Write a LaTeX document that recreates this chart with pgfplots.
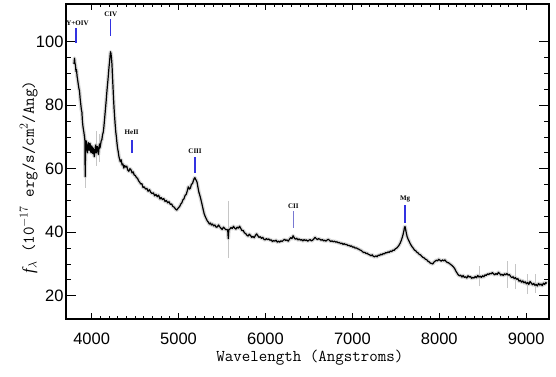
\documentclass[border=0pt]{standalone}
\usepackage{pgfplots}
\usepackage{pgfplotstable}
\pgfplotsset{compat=1.18}
\usepackage{fontspec}
\setmainfont{Liberation Sans}
\newfontfamily\serf{Liberation Serif}
\definecolor{linemark}{RGB}{50,50,225}
\definecolor{lightmark}{RGB}{120,120,210}
\pgfplotstableread{
x y
3797 93.0
3803 94.8
3808 93.2
3814 92.6
3820 90.6
3826 91.2
3832 89.2
3840 87.8
3847 86.4
3854 85.2
3860 84.6
3868 82.0
3875 80.3
3882 78.6
3888 77.8
3894 75.0
3898 73.8
3904 72.6
3910 71.6
3916 70.4
3922 69.0
3926 57.5
3930 66.5
3935 68.8
3940 68.5
3946 66.0
3952 65.0
3958 67.5
3964 68.2
3970 65.8
3976 66.5
3982 68.0
3988 65.5
3995 65.0
4000 67.2
4006 66.8
4012 64.8
4018 66.5
4024 65.5
4030 63.8
4036 65.0
4042 66.8
4048 67.5
4054 65.0
4060 65.8
4066 67.0
4072 66.0
4078 64.5
4084 66.2
4090 67.8
4096 66.5
4102 67.5
4110 68.8
4118 69.2
4126 70.8
4134 71.5
4142 73.5
4150 76.0
4158 78.5
4166 81.0
4174 83.8
4181 86.0
4188 88.0
4194 90.0
4200 92.0
4206 93.6
4212 95.6
4217 96.8
4222 96.3
4228 95.0
4234 92.8
4240 89.0
4246 85.6
4252 82.0
4258 79.0
4264 76.5
4270 74.2
4278 71.5
4284 70.2
4290 68.5
4298 66.5
4305 65.5
4314 63.8
4322 63.0
4330 62.2
4340 62.8
4350 61.2
4360 61.5
4370 60.2
4380 61.0
4392 60.5
4404 60.8
4415 59.6
4428 59.2
4440 60.0
4452 59.7
4465 58.7
4478 59.0
4490 58.0
4502 57.9
4515 57.2
4528 57.0
4540 56.2
4552 55.8
4565 55.2
4578 55.3
4591 54.1
4605 54.3
4620 53.6
4635 53.8
4650 52.9
4665 53.4
4680 52.6
4695 52.2
4710 52.4
4725 51.5
4740 51.9
4755 51.2
4770 51.7
4787 50.5
4800 50.9
4815 50.3
4830 50.6
4845 49.7
4860 50.0
4875 49.3
4890 49.6
4905 48.8
4920 48.9
4935 48.1
4950 47.9
4965 47.3
4979 47.0
4990 47.4
5002 47.8
5014 48.2
5026 48.9
5038 49.3
5050 50.2
5062 50.5
5075 51.6
5088 51.9
5100 53.0
5112 54.3
5124 53.6
5136 53.9
5148 55.1
5160 55.3
5170 56.2
5180 56.9
5188 57.2
5196 56.6
5204 56.4
5214 55.6
5224 54.0
5234 52.6
5246 51.5
5258 50.2
5270 48.8
5282 47.3
5294 45.9
5306 45.0
5318 44.3
5330 43.6
5342 43.2
5354 42.6
5366 42.9
5378 42.3
5390 42.6
5404 42.0
5418 42.3
5432 41.6
5446 41.7
5460 42.3
5474 41.7
5488 41.3
5502 40.9
5516 41.6
5530 41.2
5544 40.8
5558 40.9
5566 40.5
5572 38.0
5578 40.8
5590 41.0
5604 41.5
5618 41.2
5632 41.9
5646 41.3
5660 41.0
5674 41.6
5688 41.3
5702 41.9
5716 41.2
5730 40.5
5744 40.6
5758 39.8
5772 39.6
5786 39.1
5800 38.8
5814 39.4
5828 39.0
5842 38.4
5856 38.7
5870 38.3
5884 39.0
5898 39.5
5912 38.9
5926 38.4
5940 38.6
5954 38.1
5968 38.4
5982 37.8
5996 37.6
6010 38.0
6024 37.7
6038 37.9
6052 37.5
6066 37.6
6080 37.1
6094 37.4
6108 37.2
6122 37.5
6136 36.9
6150 37.2
6164 36.9
6178 37.3
6192 37.1
6206 37.5
6220 37.8
6234 37.4
6248 37.6
6262 37.2
6276 37.8
6290 38.3
6304 38.0
6318 38.9
6332 38.2
6346 37.8
6360 38.1
6374 37.6
6388 37.9
6402 37.5
6416 37.7
6430 37.3
6444 37.7
6458 37.4
6472 37.6
6486 37.2
6500 37.5
6514 37.7
6528 37.3
6542 37.5
6556 37.9
6570 38.4
6584 38.0
6598 37.7
6612 38.0
6626 37.8
6640 37.5
6654 37.7
6668 37.3
6682 37.5
6696 37.2
6710 37.6
6724 37.8
6738 37.4
6752 37.1
6766 37.3
6780 37.0
6794 37.2
6808 36.9
6822 37.0
6836 36.7
6850 36.8
6864 36.4
6878 36.6
6892 36.2
6906 36.4
6920 36.1
6934 36.2
6948 35.8
6962 35.9
6976 35.6
6990 35.7
7004 35.3
7018 35.4
7032 35.0
7046 35.1
7060 34.8
7074 34.7
7088 34.4
7102 34.3
7116 33.9
7130 33.6
7144 33.7
7158 33.3
7172 33.4
7186 33.0
7200 32.9
7214 32.6
7228 32.9
7242 32.4
7256 32.3
7270 32.6
7284 32.3
7298 32.8
7312 32.7
7326 33.1
7340 32.9
7354 33.3
7368 33.2
7382 33.6
7396 33.5
7410 33.8
7424 33.7
7438 34.1
7452 33.9
7466 34.4
7480 34.3
7494 34.8
7508 35.0
7522 35.4
7536 35.9
7550 36.6
7562 37.4
7574 38.4
7584 39.4
7592 40.4
7600 41.6
7606 41.8
7612 41.0
7620 39.8
7630 38.6
7640 37.9
7652 37.2
7664 36.5
7676 35.9
7688 35.4
7700 35.0
7714 34.4
7728 34.2
7742 33.7
7756 33.5
7770 33.0
7784 32.9
7798 32.4
7812 32.1
7826 31.9
7840 31.5
7854 31.4
7868 30.9
7882 30.7
7896 30.3
7910 30.2
7924 30.0
7938 30.6
7952 30.9
7966 31.2
7980 31.0
7994 31.5
8008 31.2
8022 30.9
8036 31.3
8050 31.0
8064 31.3
8078 30.8
8092 30.5
8106 30.4
8120 30.1
8134 29.8
8148 29.5
8162 29.1
8176 28.6
8190 27.8
8204 27.2
8218 26.6
8232 26.3
8246 26.5
8260 25.9
8274 26.4
8288 25.8
8302 26.0
8316 25.6
8330 26.3
8344 25.9
8358 26.1
8372 25.5
8386 25.8
8400 25.6
8414 26.1
8428 25.7
8442 26.4
8456 25.9
8470 26.2
8484 25.8
8498 26.3
8512 26.0
8526 26.6
8540 26.4
8554 26.9
8568 26.7
8582 27.1
8596 26.9
8610 27.3
8624 26.9
8638 26.6
8652 27.0
8666 26.7
8680 27.4
8694 27.0
8708 26.5
8722 26.8
8736 26.4
8750 26.9
8764 26.6
8778 27.0
8792 26.5
8806 26.7
8820 26.1
8834 25.7
8848 26.0
8862 25.4
8876 25.7
8890 25.2
8904 25.4
8918 24.6
8932 24.9
8946 24.3
8960 24.7
8974 24.1
8988 24.4
9002 23.8
9016 24.2
9030 23.6
9044 24.5
9058 24.0
9072 23.5
9086 23.9
9100 23.3
9114 23.6
9128 23.1
9142 23.9
9156 23.4
9170 23.7
9184 23.2
9198 24.0
9212 23.6
9226 24.2
9236 23.9
}\spectrum
\begin{document}
\begin{tikzpicture}
\path[use as bounding box] (-66pt,-57pt) rectangle (490pt,319pt);
\begin{axis}[at={(0,0)}, anchor=south west, scale only axis,
  width=483pt, height=315pt,
  xmin=3705, xmax=9262, ymin=12.7, ymax=111.85,
  xtick={4000,5000,...,9000}, ytick={20,40,...,100},
  minor x tick num=9, minor y tick num=3,
  tick align=inside,
  axis line style={line width=1.1pt},
  every tick/.style={black, line width=0.9pt},
  xtick style={/pgfplots/major tick length=6.3pt, /pgfplots/minor tick length=3.2pt},
  ytick style={/pgfplots/major tick length=9.7pt, /pgfplots/minor tick length=4.8pt},
  /pgf/number format/assume math mode=true,
  /pgf/number format/1000 sep={},
  ticklabel style={font=\fontsize{16.5}{18}\selectfont},
  xticklabel style={yshift=-10pt},
  yticklabel style={xshift=1pt},
  xlabel={Wavelength (Angstroms)},
  ylabel={{\serf\itshape f}$_\lambda$ (10$^{-17}$ erg/s/cm$^2$/Ang)},
  xlabel style={at={(axis description cs:0.505,-0.124)}, anchor=center, font=\ttfamily\fontsize{16.5}{18}\selectfont},
  ylabel style={at={(axis description cs:-0.077,0.451)}, anchor=center, font=\ttfamily\fontsize{16.5}{18}\selectfont},
  unbounded coords=jump,
]
\addplot[gray!30, line width=3.8pt, line join=round] table[x=x,y=y] {\spectrum};
\addplot[gray!45, line width=0.6pt] coordinates {
 (3926,54) (3926,71) (3926,nan)
 (4050,61) (4050,72) (4050,nan)
 (4090,62) (4090,71) (4090,nan)
 (5577,50) (5577,32) (5577,nan)
 (8460,23) (8460,29.5) (8460,nan)
 (8780,22.5) (8780,31) (8780,nan)
 (8870,22) (8870,30) (8870,nan)
 (9010,20.5) (9010,27) (9010,nan)
 (9100,21) (9100,27)
};
\addplot[black, line width=1.2pt, line join=round] table[x=x,y=y] {\spectrum};
\addplot[linemark, line width=1.5pt] coordinates {(3820,99.5) (3820,104.2)};
\addplot[linemark, line width=1.4pt] coordinates {(4220,101.8) (4220,107)};
\addplot[linemark, line width=1.4pt] coordinates {(4465,64.9) (4465,69.1)};
\addplot[linemark, line width=1.4pt] coordinates {(5190,58.6) (5190,63.7)};
\addplot[lightmark, line width=1.2pt] coordinates {(6321,41.4) (6321,46.6)};
\addplot[linemark, line width=1.4pt] coordinates {(7607,42.9) (7607,48.6)};
\begin{scope}[every node/.style={font=\serf\bfseries\fontsize{7}{8}\selectfont, inner sep=0pt}]
\node at (axis cs:3838,105.9) {Y+OIV};
\node at (axis cs:4220,108.6) {CIV};
\node at (axis cs:4461,71.5) {HeII};
\node at (axis cs:5190,65.4) {CIII};
\node at (axis cs:6321,48.1) {CII};
\node at (axis cs:7607,50.5) {Mg};
\end{scope}
\end{axis}
\end{tikzpicture}
\end{document}
